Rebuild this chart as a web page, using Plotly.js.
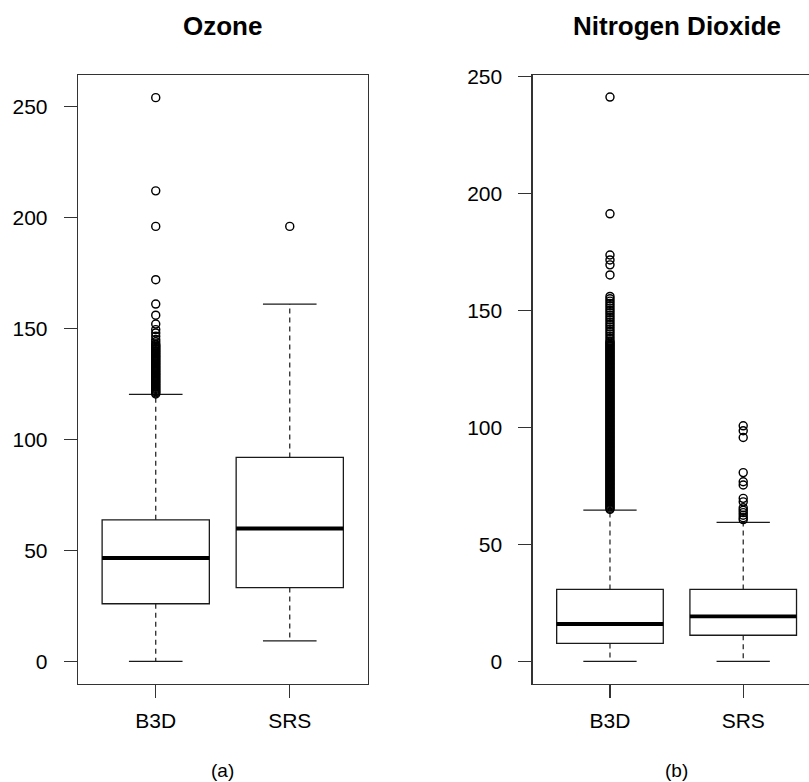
<!DOCTYPE html>
<html>
<head>
<meta charset="utf-8">
<script src="https://cdn.plot.ly/plotly-3.0.1.min.js"></script>
<style>
html, body { margin: 0; padding: 0; overflow: hidden; background: #fff; width: 809px; height: 782px; }
#chart { width: 822px; height: 782px; }
</style>
</head>
<body>
<div id="chart"></div>
<script>
// ---------- data ----------
const categories = ['B3D', 'SRS'];
const panelTitles = ['Ozone', 'Nitrogen Dioxide'];
const panelCaptions = ['(a)', '(b)'];
const yTickValues = [0, 50, 100, 150, 200, 250];

// Ozone
const ozoneQ1 = [26, 33.3];
const ozoneMedian = [46.6, 59.9];
const ozoneQ3 = [63.8, 91.9];
const ozoneLowerWhisker = [0, 9.3];
const ozoneUpperWhisker = [120.3, 161];
const ozoneOutliersB3D = [120.5,121,121.5,122,122.5,123,123.5,124,124.5,125,125.5,126,126.5,127,127.5,128,128.5,129,129.5,130,
  130.5,131,131.5,132,132.5,133,133.5,134,134.5,135,135.5,136,136.5,137,137.5,138,138.5,139,139.5,140,140.5,141,141.5,142,142.5,143,
  144,145,146.5,148,149.5,152,156,161,172,196,212,254];
const ozoneOutliersSRS = [196];

// Nitrogen Dioxide
const no2Q1 = [7.7, 11.2];
const no2Median = [16, 19.3];
const no2Q3 = [30.8, 30.8];
const no2LowerWhisker = [0, 0];
const no2UpperWhisker = [64.7, 59.4];
const no2OutliersB3D = [65,65.5,66,66.5,67,67.5,68,68.5,69,69.5,
  70,70.5,71,71.5,72,72.5,73,73.5,74,74.5,75,75.5,76,76.5,77,77.5,78,78.5,79,79.5,
  80,80.5,81,81.5,82,82.5,83,83.5,84,84.5,85,85.5,86,86.5,87,87.5,88,88.5,89,89.5,
  90,90.5,91,91.5,92,92.5,93,93.5,94,94.5,95,95.5,96,96.5,97,97.5,98,98.5,99,99.5,
  100,100.5,101,101.5,102,102.5,103,103.5,104,104.5,105,105.5,106,106.5,107,107.5,108,108.5,109,109.5,
  110,110.5,111,111.5,112,112.5,113,113.5,114,114.5,115,115.5,116,116.5,117,117.5,118,118.5,119,119.5,
  120,120.5,121,121.5,122,122.5,123,123.5,124,124.5,125,125.5,126,126.5,127,127.5,128,128.5,129,129.5,
  130,130.5,131,131.5,132,132.5,133,133.5,134,134.5,135,135.5,136,136.5,137,
  138,139,140,141,142,143,144,145,146,147,148,149,150,151,152,153,154,155,156,
  165.2,169.5,171.6,173.7,191.3,241.2];
const no2OutliersSRS = [60.6,61.4,62.5,63.6,64.6,65.7,68.2,69.7,75.4,76.8,80.7,95.7,98.6,100.7];

// ---------- styling ----------
const FONT = 'Liberation Sans, Arial, sans-serif';
const BOXWEX = 0.8;
const W = 822, H = 782;
const px = v => v / W;
const py = v => (H - v) / H;

function panelTraces(xa, ya, q1, med, q3, lw, uw, outliers) {
  const traces = [];
  const pos = categories.map((c, i) => i + 1);
  pos.forEach((p, i) => {
    // box body
    traces.push({
      type: 'box', xaxis: xa, yaxis: ya, x: [p],
      q1: [q1[i]], median: [med[i]], q3: [q3[i]],
      lowerfence: [q1[i]], upperfence: [q3[i]],
      width: BOXWEX, whiskerwidth: 0, boxpoints: false,
      fillcolor: '#ffffff', line: { color: '#1a1a1a', width: 1.3 },
      hoverinfo: 'skip', showlegend: false
    });
    // dashed whiskers
    traces.push({
      type: 'scatter', mode: 'lines', xaxis: xa, yaxis: ya,
      x: [p, p, null, p, p], y: [q3[i], uw[i], null, q1[i], lw[i]],
      line: { color: '#1a1a1a', width: 1.2, dash: '5px,4px' },
      hoverinfo: 'skip', showlegend: false
    });
    // staples
    const hw = BOXWEX * 0.25;
    traces.push({
      type: 'scatter', mode: 'lines', xaxis: xa, yaxis: ya,
      x: [p - hw, p + hw, null, p - hw, p + hw], y: [uw[i], uw[i], null, lw[i], lw[i]],
      line: { color: '#1a1a1a', width: 1.3 },
      hoverinfo: 'skip', showlegend: false
    });
    // outliers
    traces.push({
      type: 'scatter', mode: 'markers', xaxis: xa, yaxis: ya,
      x: outliers[i].map(() => p), y: outliers[i],
      marker: { symbol: 'circle-open', size: 8, color: '#000', line: { width: 1.45, color: '#000' } },
      hoverinfo: 'skip', showlegend: false
    });
    // thick median
    traces.push({
      type: 'scatter', mode: 'lines', xaxis: xa, yaxis: ya,
      x: [p - BOXWEX / 2, p + BOXWEX / 2], y: [med[i], med[i]],
      line: { color: '#000', width: 3.8 },
      hoverinfo: 'skip', showlegend: false
    });
  });
  return traces;
}

const data = [].concat(
  panelTraces('x', 'y', ozoneQ1, ozoneMedian, ozoneQ3, ozoneLowerWhisker, ozoneUpperWhisker,
    [ozoneOutliersB3D, ozoneOutliersSRS]),
  panelTraces('x2', 'y2', no2Q1, no2Median, no2Q3, no2LowerWhisker, no2UpperWhisker,
    [no2OutliersB3D, no2OutliersSRS])
);

const tickFont = { family: FONT, size: 21, color: '#000' };
function xAxis(domain, anchor) {
  return {
    domain: domain, anchor: anchor, range: [0.42, 2.58],
    tickmode: 'array', tickvals: [1, 2], ticktext: categories,
    ticks: 'outside', ticklen: 13, tickwidth: 1.1, tickcolor: '#333',
    showline: true, mirror: true, linecolor: '#333', linewidth: 1.3,
    showgrid: false, zeroline: false, tickfont: tickFont, ticklabelstandoff: 4,
    fixedrange: true
  };
}
function yAxis(range, anchor) {
  return {
    domain: [py(684), py(75)], anchor: anchor, range: range,
    tickmode: 'array', tickvals: yTickValues,
    ticks: 'outside', ticklen: 13, tickwidth: 1.1, tickcolor: '#333',
    showline: true, mirror: true, linecolor: '#333', linewidth: 1.3,
    showgrid: false, zeroline: false, tickfont: tickFont, ticklabelstandoff: 12,
    fixedrange: true
  };
}

const layout = {
  width: W, height: H,
  margin: { l: 0, r: 0, t: 0, b: 0 },
  paper_bgcolor: '#fff', plot_bgcolor: '#fff',
  showlegend: false,
  font: { family: FONT, color: '#000' },
  xaxis: xAxis([px(78), px(367.5)], 'y'),
  yaxis: yAxis([-10.16, 264.2], 'x'),
  xaxis2: xAxis([px(532.7), px(820.5)], 'y2'),
  yaxis2: yAxis([-9.64, 250.64], 'x2'),
  annotations: [
    { text: '<b>' + panelTitles[0] + '</b>', xref: 'paper', yref: 'paper', x: px(222.7), y: py(26),
      xanchor: 'center', yanchor: 'middle', showarrow: false, font: { family: FONT, size: 26, color: '#000' } },
    { text: '<b>' + panelTitles[1] + '</b>', xref: 'paper', yref: 'paper', x: px(676.6), y: py(26),
      xanchor: 'center', yanchor: 'middle', showarrow: false, font: { family: FONT, size: 26, color: '#000' } },
    { text: panelCaptions[0], xref: 'paper', yref: 'paper', x: px(222), y: py(770),
      xanchor: 'center', yanchor: 'middle', showarrow: false, font: { family: FONT, size: 19, color: '#000' } },
    { text: panelCaptions[1], xref: 'paper', yref: 'paper', x: px(676), y: py(770),
      xanchor: 'center', yanchor: 'middle', showarrow: false, font: { family: FONT, size: 19, color: '#000' } }
  ]
};

Plotly.newPlot('chart', data, layout, { displayModeBar: false, staticPlot: true });
</script>
</body>
</html>
